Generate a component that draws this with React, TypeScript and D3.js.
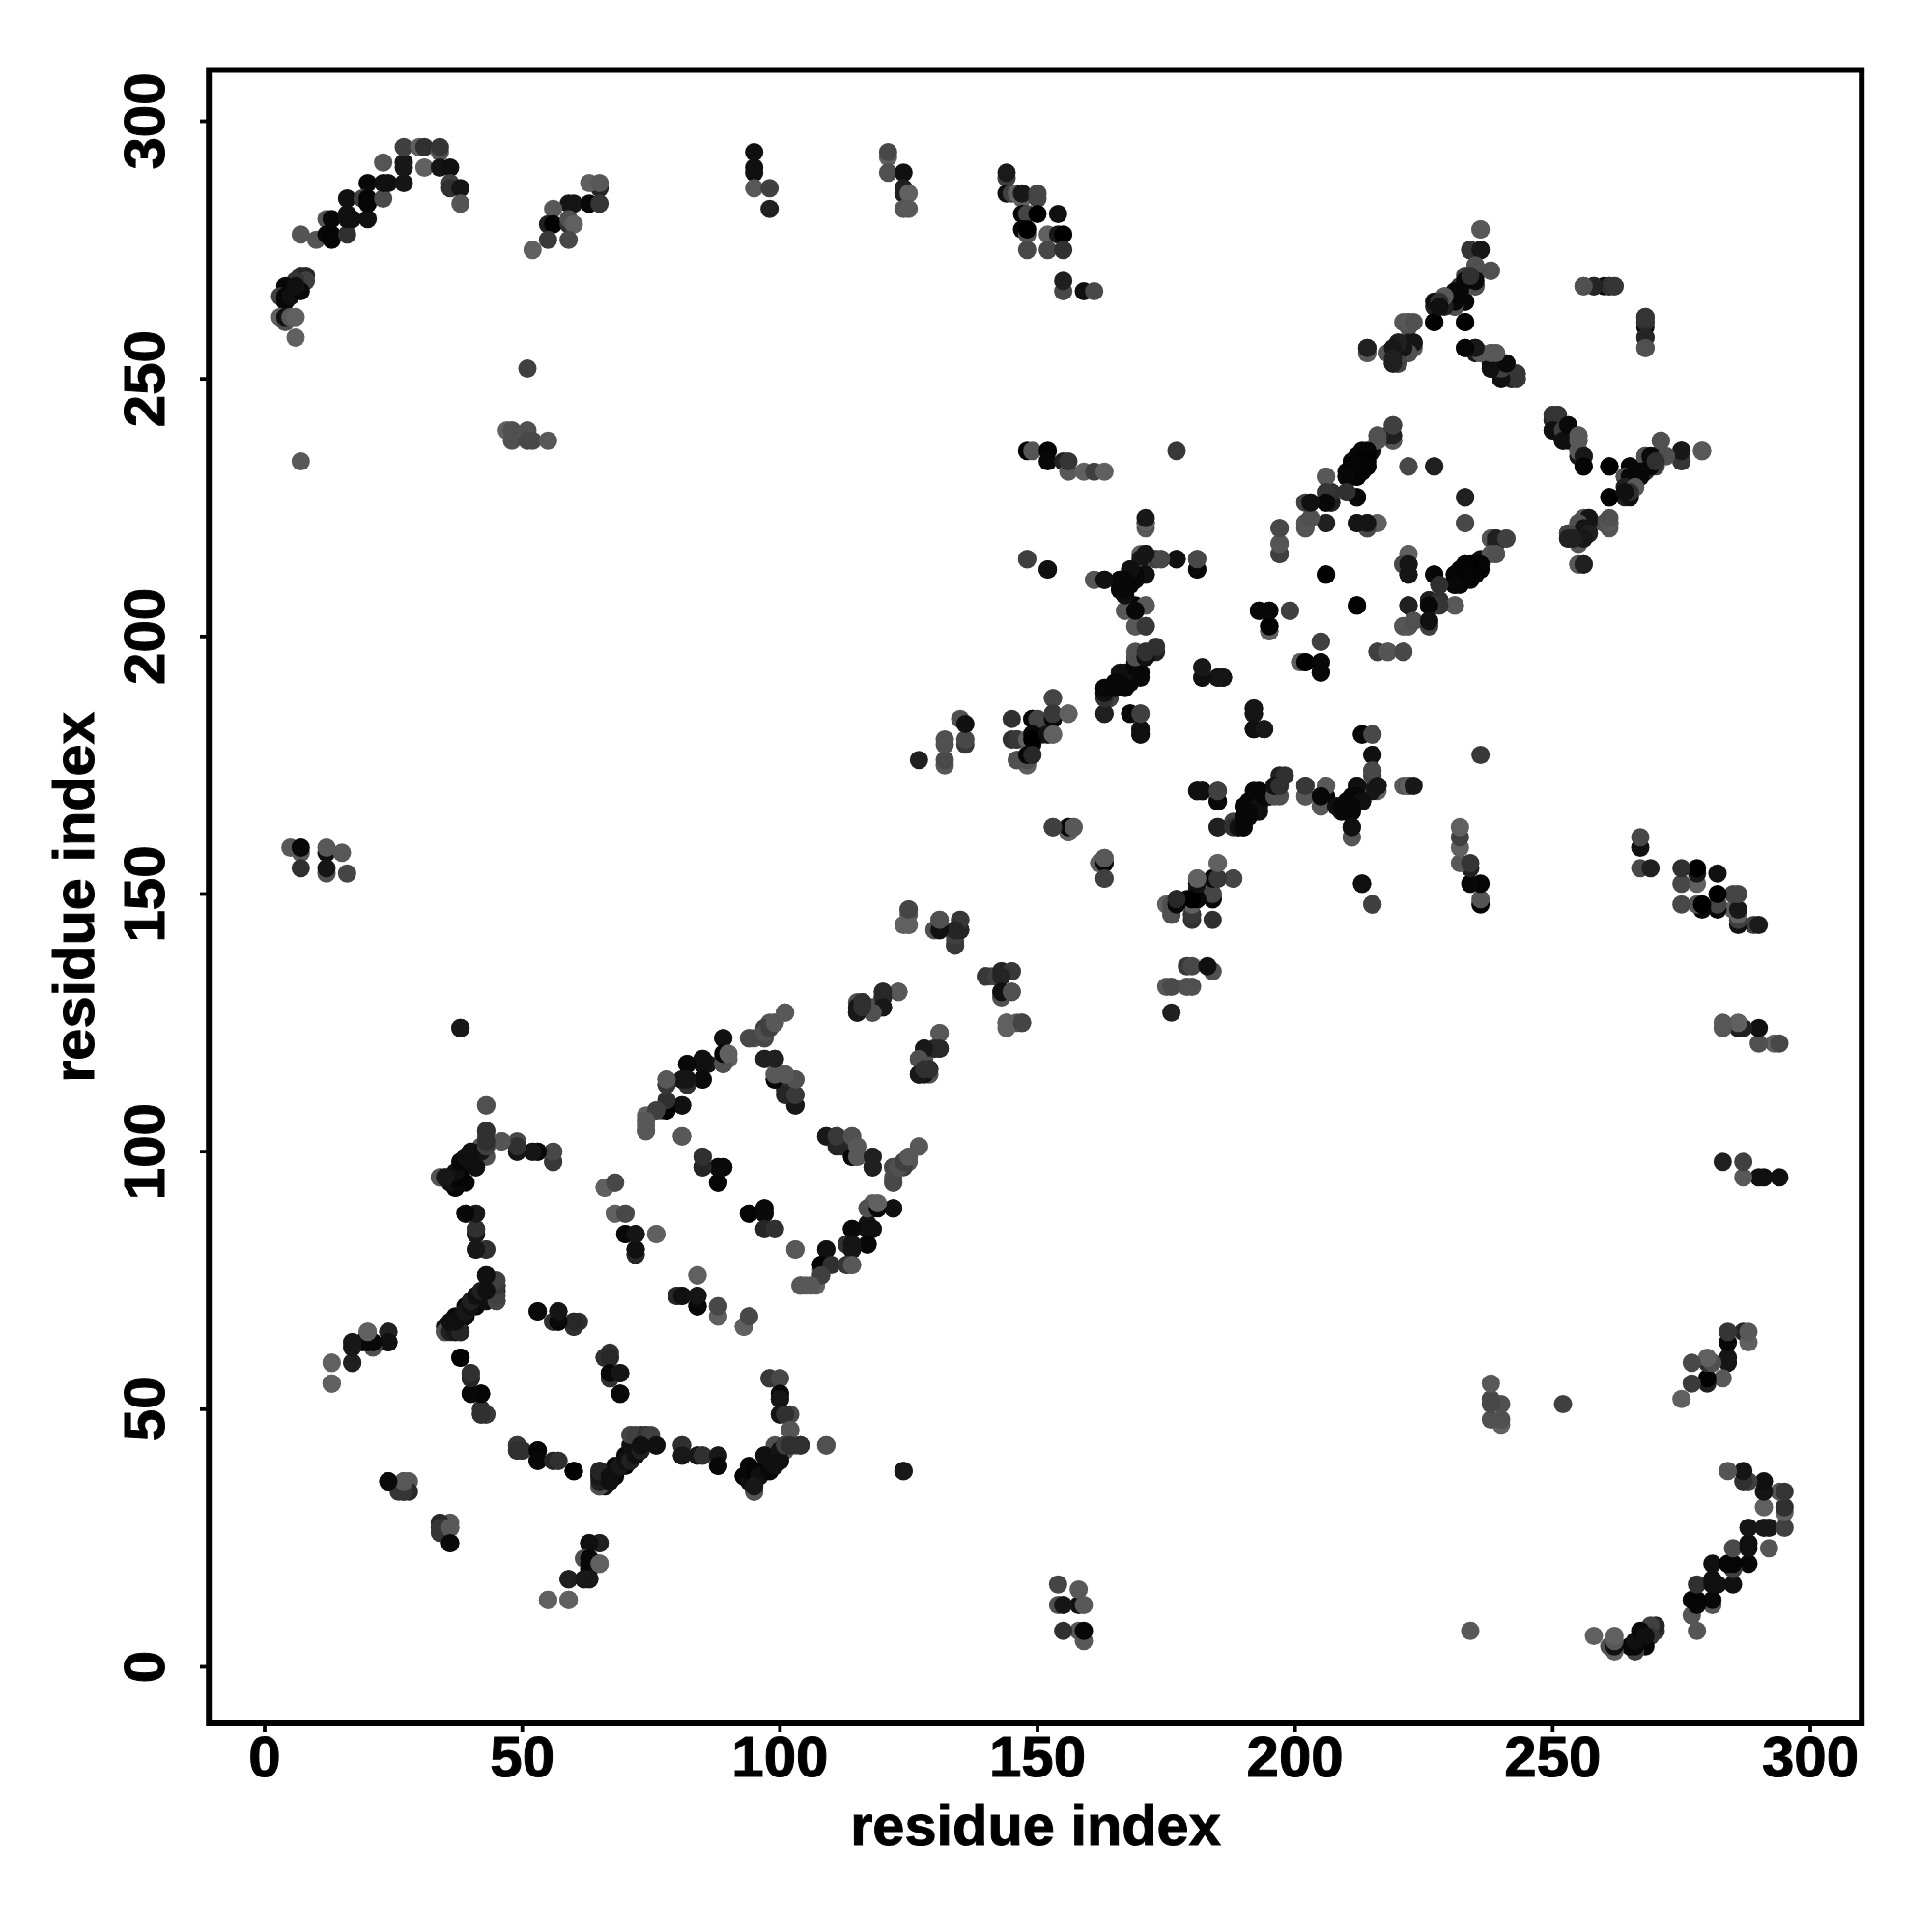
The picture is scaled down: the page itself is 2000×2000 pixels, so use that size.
import React from "react";
import * as d3 from "d3";

type C = [number, number, number];
const ticks = [0, 50, 100, 150, 200, 250, 300];
const axisTitle = "residue index";

const arcTop: C[] = [
[7,278,0x55],[10,277,0x55],[12,281,0x55],[13,281,0x08],[12,278,0x08],[13,278,0x05],[13,277,0x05],[16,278,0x30],[16,285,0x10],[16,282,0x10],[16,281,0x10],[17,281,0x10],[20,281,0x10],[20,288,0x08],[19,285,0x40],[20,285,0x05],[20,284,0x05],[23,285,0x4a],[23,292,0x55],[23,288,0x10],[24,288,0x10],[27,288,0x15],[27,292,0x18],[27,291,0x18],[27,295,0x40],[30,295,0x60],[31,295,0x30],[34,294,0x55],[34,295,0x35],[31,291,0x60],[34,291,0x15],[36,291,0x10],[36,288,0x40],[36,287,0x30],[38,287,0x15],[38,284,0x55],
[7,270,0x30],[8,270,0x25],[8,269,0x40],[6,269,0x35],[4,268,0x08],[3,266,0x40],[4,266,0x08],[4,265,0x08],[5,266,0x10],[7,267,0x08],[6,268,0x10],
[3,262,0x60],[4,261,0x50],[4,262,0x10],[5,262,0x58],[6,262,0x60],[6,258,0x60],
];
const arcTopRight: C[] = [
[65,287,0x25],[63,288,0x60],[65,288,0x58],[59,284,0x15],[60,284,0x15],[63,284,0x08],[65,284,0x35],[56,283,0x58],[55,280,0x20],[56,280,0x02],[59,280,0x30],[59,281,0x50],[60,280,0x60],[55,277,0x3a],[59,277,0x48],[52,275,0x60],[51,252,0x40],[7,234,0x58],
[47,240,0x60],[48,240,0x50],[51,240,0x50],[48,238,0x50],[51,238,0x48],[52,238,0x48],[55,238,0x58],
];
const topMiddle: C[] = [
[95,294,0x10],[95,291,0x10],[95,290,0x10],[95,287,0x58],[98,287,0x40],[98,283,0x20],
[121,293,0x60],[121,294,0x48],[121,290,0x50],[124,290,0x10],[124,287,0x20],[124,286,0x20],[125,286,0x60],[124,283,0x55],[125,283,0x58],
[144,289,0x40],[144,290,0x1a],[144,286,0x10],[145,286,0x40],[146,286,0x60],[147,285,0x60],[147,286,0x18],[150,285,0x45],[150,286,0x45],[147,282,0x08],[148,282,0x45],[150,282,0x00],[154,282,0x10],[147,279,0x08],[148,278,0x55],[148,279,0x00],[148,275,0x48],[152,278,0x60],[154,278,0x18],[155,278,0x00],[152,275,0x48],[155,275,0x30],[155,267,0x48],[155,269,0x20],[159,267,0x10],[161,267,0x48],
];
const centerUpper: C[] = [
[148,236,0x02],[149,236,0x55],[152,236,0x05],[152,234,0x08],[155,234,0x20],[156,232,0x58],[156,234,0x35],[159,232,0x60],[161,232,0x40],[163,232,0x60],[177,236,0x38],[171,221,0x58],[171,222,0x15],[148,215,0x40],[152,213,0x10],[161,211,0x60],[163,211,0x10],
[166,211,0x08],[168,213,0x10],[170,216,0x60],[170,214,0x60],[170,215,0x18],[171,216,0x18],[170,212,0x50],[171,212,0x10],[168,210,0x08],[167,208,0x10],[166,209,0x08],[173,215,0x50],[174,215,0x40],[177,215,0x10],[181,213,0x08],[181,215,0x45],
[167,205,0x60],[169,205,0x08],[169,206,0x08],[171,206,0x58],[169,202,0x60],[171,202,0x38],
[171,197,0x58],[173,197,0x20],[173,198,0x30],[169,195,0x08],[170,193,0x08],[168,193,0x10],[166,193,0x10],[167,191,0x08],[168,191,0x08],[165,191,0x08],[164,188,0x40],[163,189,0x18],[163,190,0x10],[164,190,0x08],[163,185,0x18],[168,185,0x08],[170,185,0x40],[170,182,0x08],[170,181,0x08],[182,194,0x15],[182,192,0x15],[185,192,0x15],[186,192,0x15],[192,186,0x15],[192,185,0x15],[192,182,0x10],[194,182,0x18],
[202,226,0x60],[203,226,0x10],[202,222,0x60],[202,221,0x60],[197,221,0x45],[197,216,0x30],[197,218,0x60],[193,205,0x08],[195,205,0x08],[199,205,0x38],[195,201,0x58],[195,202,0x05],[201,195,0x60],[202,195,0x02],
];
const arms: C[] = [
[236,279,0x60],[234,275,0x50],[236,275,0x18],[235,271,0x58],[238,271,0x58],[233,270,0x40],[235,270,0x30],[235,268,0x18],[232,268,0x30],[231,264,0x40],[229,266,0x55],[229,265,0x40],[228,264,0x40],[227,264,0x20],[227,265,0x10],[231,265,0x10],[232,266,0x08],[233,265,0x05],[227,261,0x02],[233,261,0x02],[221,261,0x55],[222,260,0x50],[222,261,0x55],[214,255,0x48],[214,256,0x18],[218,255,0x55],[220,254,0x50],[219,253,0x25],[220,253,0x35],[219,255,0x40],[221,257,0x50],[220,257,0x30],[221,255,0x30],[222,255,0x30],[222,257,0x20],[223,256,0x58],[223,257,0x20],
[233,256,0x08],[235,255,0x18],[235,256,0x10],[236,255,0x58],[238,255,0x58],[239,255,0x58],[238,253,0x10],[238,252,0x10],[240,253,0x50],[241,253,0x08],[240,252,0x10],[240,250,0x0a],[242,250,0x02],[242,251,0x55],[243,251,0x30],[243,250,0x30],
[256,268,0x50],[258,268,0x28],[261,268,0x20],[262,268,0x30],[268,260,0x05],[268,261,0x30],[268,262,0x35],[268,258,0x25],[268,256,0x50],
[219,238,0x55],[219,239,0x25],[219,241,0x40],[216,239,0x55],[213,236,0x08],[215,236,0x10],[213,235,0x08],[214,235,0x08],[212,235,0x08],[211,234,0x08],[214,233,0x08],[210,232,0x08],[212,232,0x08],[212,231,0x08],[210,231,0x08],[206,231,0x58],[206,228,0x50],[207,228,0x28],[210,228,0x30],[212,227,0x08],[206,226,0x10],[207,226,0x25],
[206,222,0x28],[212,222,0x18],[214,221,0x35],[214,222,0x10],[216,222,0x60],[222,233,0x48],[227,233,0x20],[233,227,0x20],[233,222,0x48],[222,216,0x60],[221,214,0x48],[222,214,0x15],[222,212,0x15],[206,212,0x02],[212,206,0x02],[222,206,0x20],
[238,219,0x55],[239,218,0x25],[239,219,0x20],[241,219,0x40],[238,216,0x55],[239,216,0x50],[236,214,0x05],[234,214,0x02],[233,214,0x05],[232,213,0x05],[231,212,0x05],[234,212,0x05],[233,211,0x05],[231,211,0x05],[231,210,0x08],[227,212,0x08],[228,210,0x30],[226,207,0x20],[228,207,0x30],[231,206,0x58],[228,206,0x35],[226,206,0x08],
[250,242,0x25],[250,243,0x35],[251,243,0x35],[250,240,0x10],[252,240,0x40],[252,238,0x10],[253,241,0x0a],[255,239,0x58],[255,238,0x58],[255,236,0x58],[256,235,0x18],[256,233,0x05],[261,233,0x02],[261,227,0x02],
[271,238,0x50],[275,234,0x35],[275,236,0x18],[279,236,0x58],[272,235,0x50],[268,235,0x50],[269,235,0x0a],[269,233,0x08],[270,234,0x30],[265,233,0x08],[264,231,0x50],[265,231,0x08],[267,231,0x08],[267,232,0x08],[264,229,0x20],[266,229,0x58],[265,228,0x30],[264,228,0x10],
[261,222,0x58],[261,223,0x50],[257,223,0x15],[255,222,0x50],[256,221,0x15],[257,220,0x20],[255,218,0x55],[256,219,0x18],[253,220,0x45],[253,219,0x20],[254,219,0x20],[255,214,0x58],[256,214,0x20],
];
const centerLower: C[] = [
[221,202,0x55],[222,202,0x55],[223,203,0x50],[226,202,0x40],[226,203,0x10],[216,197,0x40],[218,197,0x55],[221,197,0x48],[205,199,0x40],[205,195,0x08],[205,193,0x08],
[213,181,0x08],[215,181,0x48],[215,177,0x10],[215,173,0x40],[215,174,0x48],[216,171,0x15],[212,171,0x10],[222,171,0x60],[223,171,0x18],[202,169,0x58],[202,171,0x38],[206,171,0x58],[205,167,0x58],[205,169,0x08],[208,167,0x10],[211,169,0x08],[212,169,0x08],[213,168,0x10],[211,167,0x08],[210,166,0x08],[211,166,0x08],[209,167,0x08],[211,161,0x55],[211,163,0x10],[213,152,0x10],[215,148,0x40],
[181,170,0x10],[182,170,0x10],[185,168,0x08],[185,170,0x40],[185,163,0x20],[188,163,0x30],[189,163,0x10],[190,163,0x08],[190,167,0x08],[190,165,0x08],[192,170,0x08],[193,167,0x10],[191,166,0x08],[194,169,0x08],[195,169,0x08],[196,169,0x50],[197,169,0x50],[196,171,0x10],[197,171,0x30],
[185,156,0x60],[181,153,0x58],[184,153,0x15],[185,153,0x40],[188,153,0x40],[181,151,0x10],[184,150,0x50],[184,149,0x05],[177,149,0x25],[181,149,0x08],[179,149,0x08],[175,148,0x60],
[176,148,0x50],[176,146,0x48],[180,149,0x05],[180,146,0x30],[181,152,0x60],
[176,127,0x20],[175,132,0x58],[176,132,0x4a],[179,136,0x38],[179,132,0x50],[180,136,0x48],[180,132,0x50],[184,135,0x50],[183,136,0x10],
[145,184,0x30],[149,184,0x08],[150,184,0x45],[153,188,0x45],[153,184,0x08],[153,185,0x38],[156,185,0x60],[145,180,0x30],[146,180,0x38],[148,180,0x60],[149,181,0x08],[149,180,0x00],[152,181,0x10],[153,181,0x60],[146,176,0x50],[148,176,0x50],[148,177,0x08],[149,177,0x28],
];
const stray: C[] = [
[5,159,0x58],[7,158,0x58],[7,159,0x08],[7,155,0x30],[12,158,0x10],[12,159,0x58],[15,158,0x58],[12,154,0x50],[12,155,0x15],[16,154,0x45],[38,124,0x1a],
];
const lowerLeft: C[] = [
[43,109,0x50],[43,104,0x48],[43,103,0x48],[42,101,0x55],[43,99,0x50],[43,101,0x30],[46,102,0x55],[49,102,0x48],[49,100,0x10],[49,101,0x40],[52,100,0x20],[53,100,0x05],[56,98,0x45],[56,100,0x50],
[40,100,0x10],[41,97,0x10],[39,98,0x08],[38,98,0x08],[38,96,0x08],[39,94,0x08],[37,93,0x08],[37,94,0x08],[34,95,0x58],[35,95,0x50],[36,95,0x10],
[39,88,0x08],[41,88,0x40],[41,85,0x20],[41,84,0x18],[41,81,0x18],[43,81,0x30],[43,76,0x18],[45,71,0x45],[43,73,0x40],[45,74,0x20],[45,73,0x20],[41,72,0x08],[41,70,0x08],[43,71,0x10],[39,70,0x08],[39,68,0x08],[37,68,0x08],[37,66,0x08],[35,65,0x50],[35,66,0x10],[38,65,0x08],[37,65,0x10],
[53,69,0x10],[56,67,0x40],[57,69,0x1c],[57,67,0x08],[60,67,0x15],[61,67,0x30],[60,66,0x15],[38,60,0x02],[40,57,0x30],[40,56,0x18],[40,53,0x08],[42,53,0x08],[42,50,0x28],[42,49,0x15],[43,49,0x30],
[13,59,0x60],[13,55,0x60],[17,63,0x25],[17,62,0x25],[17,59,0x28],[20,65,0x60],[21,62,0x50],[21,63,0x08],[19,63,0x05],[24,65,0x28],[24,63,0x10],[24,36,0x0a],[27,36,0x50],[28,36,0x58],[27,34,0x28],[28,34,0x28],[34,26,0x35],[34,27,0x35],[35,27,0x35],[36,27,0x58],[36,24,0x0a],
[49,43,0x38],[49,42,0x30],[50,42,0x30],[53,42,0x05],[53,40,0x08],[56,40,0x25],[57,40,0x30],[60,38,0x02],
[65,24,0x20],[63,24,0x10],[62,21,0x50],[63,21,0x08],[63,20,0x08],[65,20,0x60],[59,17,0x20],[62,17,0x18],[63,17,0x18],[55,13,0x60],[59,13,0x60],
];
const lowerMiddle: C[] = [
[78,114,0x50],[78,113,0x48],[82,117,0x08],[85,118,0x15],[86,117,0x15],[85,117,0x10],[85,114,0x10],[81,114,0x18],[82,114,0x15],[82,113,0x20],[89,122,0x10],[89,117,0x50],[89,118,0x20],[90,118,0x60],
[74,107,0x60],[74,105,0x60],[74,104,0x60],[76,108,0x60],[78,108,0x10],[78,109,0x30],[81,109,0x10],[81,103,0x58],[85,99,0x28],[85,97,0x20],[88,97,0x10],[89,97,0x10],[88,94,0x05],
[68,94,0x48],[66,93,0x60],[68,88,0x60],[70,88,0x50],[70,84,0x08],[72,84,0x20],[76,84,0x60],[72,80,0x25],[72,81,0x18],[84,76,0x60],[80,72,0x28],[81,72,0x10],[84,70,0x08],[84,72,0x15],[88,68,0x60],[88,70,0x48],[93,66,0x60],[94,68,0x48],[94,88,0x05],[97,89,0x0a],[97,88,0x0a],[97,85,0x25],[99,85,0x30],
[66,60,0x30],[67,60,0x28],[67,56,0x30],[67,57,0x08],[69,57,0x15],[69,53,0x0a],[98,56,0x38],[100,56,0x48],[100,53,0x08],[100,52,0x15],[100,49,0x15],[101,49,0x30],[102,46,0x55],
[123,131,0x55],[120,130,0x25],[120,131,0x25],[118,127,0x50],[118,128,0x50],[120,128,0x18],[115,129,0x50],[116,129,0x25],[115,127,0x15],[115,128,0x15],
[101,127,0x60],[98,125,0x55],[99,125,0x60],[97,122,0x50],[97,124,0x40],[94,122,0x48],[95,122,0x50],[97,118,0x25],[99,118,0x25],
[99,114,0x08],[99,115,0x58],[101,115,0x58],[103,114,0x50],[101,112,0x28],[103,109,0x15],[103,111,0x38],
[109,103,0x18],[111,101,0x25],[111,103,0x38],[114,103,0x50],[114,99,0x08],[115,101,0x58],[115,99,0x58],[118,97,0x20],[118,99,0x20],
[122,94,0x48],[122,97,0x48],[123,97,0x50],[124,98,0x40],[125,99,0x58],[127,101,0x58],
[122,89,0x10],[117,89,0x50],[119,89,0x08],[119,90,0x60],[117,85,0x10],[118,85,0x10],[114,85,0x0a],[117,82,0x08],[113,82,0x30],[114,82,0x15],[114,81,0x15],[109,81,0x10],[103,81,0x58],[108,77,0x60],[108,78,0x02],[110,78,0x30],[113,78,0x35],[114,78,0x58],[108,76,0x40],[104,74,0x58],[106,74,0x58],
];
const bottomRow: C[] = [
[65,35,0x50],[65,36,0x20],[65,37,0x18],[65,38,0x25],[67,36,0x10],[67,37,0x10],[68,38,0x10],[69,39,0x18],[70,40,0x10],[71,40,0x20],[72,41,0x10],[73,42,0x20],[71,45,0x45],[72,45,0x40],[74,45,0x35],[75,45,0x40],[73,43,0x10],[76,43,0x10],[81,43,0x30],[81,41,0x18],[84,41,0x18],[85,41,0x30],[88,41,0x18],[88,39,0x08],
[95,34,0x55],[93,37,0x05],[94,36,0x10],[94,38,0x08],[95,38,0x05],[96,37,0x10],[95,35,0x18],[97,41,0x10],[98,38,0x08],[98,40,0x10],[99,39,0x10],[100,42,0x15],[100,40,0x10],[101,43,0x40],[102,43,0x30],[104,43,0x30],[109,43,0x50],[124,38,0x18],
];
const peptides: C[] = [
[125,147,0x55],[125,146,0x55],[125,144,0x60],[131,145,0x58],[130,143,0x55],[131,143,0x10],[135,145,0x30],[134,141,0x58],[134,143,0x15],[135,143,0x28],[134,140,0x35],
[140,134,0x38],[142,134,0x40],[143,135,0x25],[145,135,0x38],[143,134,0x25],[143,130,0x50],[143,131,0x10],[145,131,0x50],[144,124,0x60],[144,125,0x60],[147,125,0x45],
[131,123,0x58],[131,120,0x28],[130,120,0x28],[128,120,0x18],[127,118,0x50],[129,116,0x30],[127,115,0x18],[128,116,0x30],
[153,163,0x40],[156,162,0x50],[156,163,0x10],[157,163,0x58],[162,156,0x60],[163,156,0x08],[163,157,0x58],[163,153,0x40],
];
const groups: C[][] = [arcTop, arcTopRight, topMiddle, centerUpper, arms, centerLower, stray, lowerLeft, lowerMiddle, bottomRow, peptides];

const x = d3.scaleLinear().domain([0, 300]).range([274, 1874]);
const y = d3.scaleLinear().domain([0, 300]).range([1725.5, 125.5]);
const gray = (g: number) => d3.rgb(g, g, g).formatHex();
const font = "'Liberation Sans', Arial, sans-serif";

export default function App() {
  const contacts = groups.flat();
  return (
    <svg width={2000} height={2000} viewBox="0 0 2000 2000" style={{ position: "absolute", left: 0, top: 0, background: "#fff" }} fontFamily={font} fontWeight={700} fill="#000" stroke="none">
      <rect x={0} y={0} width={2000} height={2000} fill="#fff" />
      <g>
        {contacts.map(([i, j, g], k) => (
          <g key={k} fill={gray(g)}>
            <circle cx={x(i)} cy={y(j)} r={9.5} />
            <circle cx={x(j)} cy={y(i)} r={9.5} />
          </g>
        ))}
      </g>
      <rect x={216.2} y={72.5} width={1711} height={1711.5} fill="none" stroke="#000" strokeWidth={6} />
      {ticks.map((t) => (
        <g key={t}>
          <line x1={x(t)} x2={x(t)} y1={1784} y2={1793} stroke="#000" strokeWidth={3.8} />
          <text x={x(t)} y={1839} fontSize={60} textAnchor="middle" stroke="#000" strokeWidth={1}>{t}</text>
          <line x1={216} x2={207} y1={y(t)} y2={y(t)} stroke="#000" strokeWidth={3.8} />
          <text transform={`translate(170,${y(t)}) rotate(-90)`} fontSize={60} textAnchor="middle" stroke="#000" strokeWidth={1}>{t}</text>
        </g>
      ))}
      <text x={1072} y={1910} fontSize={59.5} textAnchor="middle" stroke="#000" strokeWidth={1}>{axisTitle}</text>
      <text transform="translate(97,929) rotate(-90)" fontSize={59.5} textAnchor="middle" stroke="#000" strokeWidth={1}>{axisTitle}</text>
    </svg>
  );
}
